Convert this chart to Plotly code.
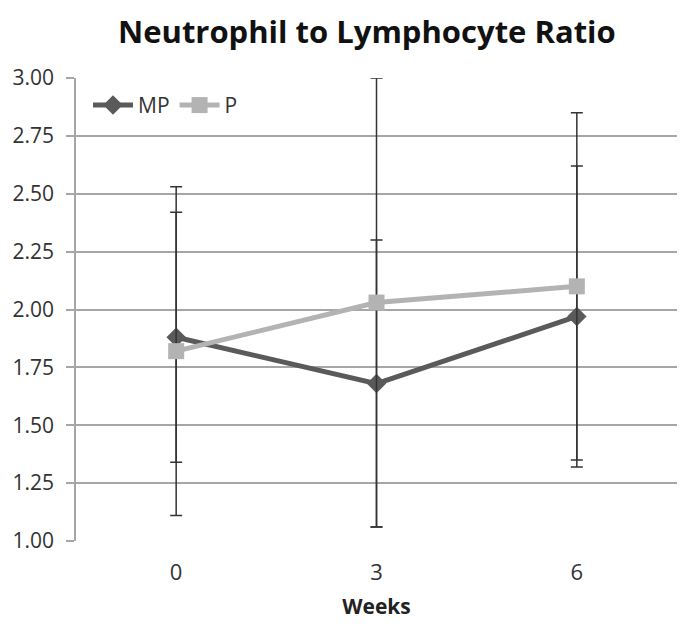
import plotly.graph_objects as go

weeks = ["0", "3", "6"]
mp_values = [1.88, 1.68, 1.97]
mp_err = [0.54, 0.62, 0.65]
p_values = [1.82, 2.03, 2.10]
p_err = [0.71, 0.97, 0.75]
y_ticks = [1.00, 1.25, 1.50, 1.75, 2.00, 2.25, 2.50, 2.75, 3.00]

fig = go.Figure()
fig.add_trace(go.Scatter(
    x=weeks, y=mp_values, name="MP", mode="lines+markers",
    line=dict(color="#5a5a5a", width=5),
    marker=dict(symbol="diamond", size=15, color="#5a5a5a"),
    error_y=dict(type="data", array=mp_err, visible=True, color="#333333", thickness=1.5, width=6),
))
fig.add_trace(go.Scatter(
    x=weeks, y=p_values, name="P", mode="lines+markers",
    line=dict(color="#b3b3b3", width=5),
    marker=dict(symbol="square", size=16, color="#b3b3b3"),
    error_y=dict(type="data", array=p_err, visible=True, color="#333333", thickness=1.5, width=6),
))

fig.update_layout(
    width=677, height=620,
    margin=dict(l=68, r=8, t=70, b=87),
    paper_bgcolor="white", plot_bgcolor="white",
    font=dict(family="Open Sans", color="#333333"),
    legend=dict(orientation="h", x=0.02, y=0.985, xanchor="left", yanchor="top",
                font=dict(size=21, color="#333333"), bgcolor="rgba(0,0,0,0)",
                itemwidth=40, tracegroupgap=0),
    showlegend=True,
    annotations=[dict(
        text="<b>Neutrophil to Lymphocyte Ratio</b>", xref="paper", yref="paper",
        x=0.485, y=1.0, yshift=47, xanchor="center", yanchor="middle", showarrow=False,
        font=dict(family="Open Sans", size=31, color="#111111"),
    )],
)
fig.update_xaxes(
    type="category", range=[-0.5, 2.5], automargin=False,
    showgrid=False, showline=False, ticks="",
    tickfont=dict(size=22, color="#333333"), ticklabelstandoff=16,
    title=dict(text="<b>Weeks</b>", font=dict(size=21, color="#222222"), standoff=14),
)
fig.update_yaxes(
    range=[1.0, 3.0], tickvals=y_ticks, ticktext=[f"{v:.2f}" for v in y_ticks],
    automargin=False,
    showgrid=True, gridcolor="#a6a6a6", gridwidth=1.5,
    showline=True, linecolor="#a6a6a6", linewidth=1.5,
    ticks="outside", ticklen=8, tickcolor="#a6a6a6", tickwidth=1.5,
    tickfont=dict(size=21, color="#333333"), ticklabelstandoff=8, zeroline=False,
)

fig.write_html("out.html")
